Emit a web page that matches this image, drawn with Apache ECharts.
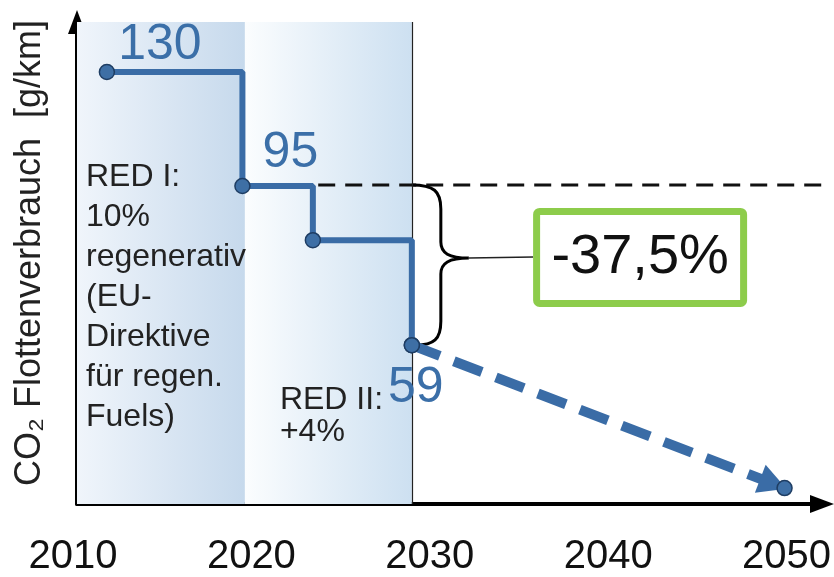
<!DOCTYPE html>
<html>
<head>
<meta charset="utf-8">
<script src="https://cdn.jsdelivr.net/npm/echarts@6/dist/echarts.min.js"></script>
<style>html,body{margin:0;padding:0;background:#fff;}#c{width:834px;height:577px;}</style>
</head>
<body>
<div id="c"></div>
<script>
// ---- data ----
var tickYears = [2010, 2020, 2030, 2040, 2050];
var stepYears = [2011.9, 2019.5, 2023.45, 2029.0];
var stepValues = [130, 95.7, 79.4, 47.8];
var stepLabels = ['130', '95', '', '59'];
var forecastYears = [2029.0, 2049.9];
var forecastValues = [47.8, 4.8];
var refYears = [2023.75, 2052.0];
var refValues = [96, 96];
var bandStarts = [2010.224, 2019.64];
var bandEnds = [2019.64, 2029.0];
var bandTexts = ['RED I:\n10%\nregenerativ\n(EU-\nDirektive\nfür regen.\nFuels)', 'RED II:\n+4%'];
var reductionText = '-37,5%';
var yTitle = 'CO\u2082 Flottenverbrauch  [g/km]';

var FONT = '"Liberation Sans", Arial, "DejaVu Sans", sans-serif';
var BLUE = '#3a6ca6';

var chart = echarts.init(document.getElementById('c'), null, {renderer: 'canvas'});

var labelOffsets = [[53, -27], [48, -33], [0, 0], [4, 43]];
var stepData = stepYears.map(function (x, i) {
  var item = {value: [x, stepValues[i]]};
  if (stepLabels[i]) {
    item.label = {
      show: true, position: 'inside', formatter: stepLabels[i],
      offset: labelOffsets[i], fontSize: 50, color: '#3b6fa8', fontFamily: FONT,
      align: 'center', verticalAlign: 'middle'
    };
  }
  return item;
});

var bandColors = [
  [{offset: 0, color: '#f0f5fb'}, {offset: 1, color: '#c6d9ec'}],
  [{offset: 0, color: '#fbfdfe'}, {offset: 1, color: '#cde0f1'}]
];
var bandLabelPos = [[9, 135], [35, 362]];
var bandLineHeights = [40, 32];
var areas = bandStarts.map(function (s, i) {
  return [{
    xAxis: s, yAxis: 0,
    itemStyle: {color: new echarts.graphic.LinearGradient(0, 0, 1, 0, bandColors[i]), opacity: 1},
    label: {
      show: true, formatter: bandTexts[i], position: bandLabelPos[i],
      align: 'left', verticalAlign: 'top', fontSize: 32, lineHeight: bandLineHeights[i],
      color: '#222', fontFamily: FONT
    }
  }, {xAxis: bandEnds[i], yAxis: 'max'}];
});

// annotation anchors (in data units)
var braceX = 2029.0, braceTop = 96, braceBottom = 47.8, braceTipY = 74;
var boxX0 = 2035.8, boxX1 = 2047.8, boxY0 = 89.1, boxY1 = 59.3;

var option = {
  animation: false,
  backgroundColor: '#fff',
  grid: [
    {left: 77, right: 12, top: 22, bottom: 73},
    {left: 73, right: 47.4, top: 22, bottom: 73}
  ],
  xAxis: [
    {
      type: 'value', gridIndex: 0, min: 2010.224, max: 2052.0,
      axisLine: {show: true, lineStyle: {color: '#000', width: 4}, symbol: ['none', 'triangle'], symbolSize: [18, 24]},
      axisTick: {show: false}, axisLabel: {show: false}, splitLine: {show: false}
    },
    {
      type: 'value', gridIndex: 1, min: 2010, max: 2050, interval: 10,
      axisLine: {show: false}, axisTick: {show: false}, splitLine: {show: false},
      axisLabel: {
        show: true, margin: 36, fontSize: 40, color: '#111', fontFamily: FONT,
        formatter: function (v) { return tickYears.indexOf(v) >= 0 ? String(v) : ''; }
      }
    }
  ],
  yAxis: [
    {
      type: 'value', gridIndex: 0, min: 0, max: 145.05,
      axisLine: {show: true, lineStyle: {color: '#000', width: 4}, symbol: ['none', 'triangle'], symbolSize: [18, 24]},
      axisTick: {show: false}, axisLabel: {show: false}, splitLine: {show: false},
      name: yTitle, nameLocation: 'middle', nameRotate: 90, nameGap: 29,
      nameTextStyle: {fontSize: 36, color: '#222', fontFamily: FONT, padding: [0, 0, 0, 20]}
    },
    {
      type: 'value', gridIndex: 1, min: 0, max: 145.05, show: false
    }
  ],
  series: [
    {
      name: 'bands', type: 'line', xAxisIndex: 0, yAxisIndex: 0, data: [], z: 1,
      markArea: {silent: true, data: areas},
      markLine: {
        silent: true, symbol: ['none', 'none'],
        lineStyle: {color: '#222', width: 1.2, type: 'solid'},
        label: {show: false},
        data: [{xAxis: bandEnds[1]}]
      }
    },
    {
      name: 'ref', type: 'line', xAxisIndex: 0, yAxisIndex: 0, z: 3,
      data: refYears.map(function (x, i) { return [x, refValues[i]]; }),
      symbol: 'none',
      lineStyle: {color: '#111', width: 3, type: [17, 10]}
    },
    {
      name: 'annot', type: 'custom', xAxisIndex: 0, yAxisIndex: 0, z: 4,
      data: [[0]],
      renderItem: function (params, api) {
        var T = api.coord([braceX, braceTop]);
        var B = api.coord([braceX, braceBottom]);
        var P = api.coord([braceX, braceTipY]);
        var x0 = T[0], yT = T[1], yB = B[1], yP = P[1];
        var bx = x0 + 29, xp = x0 + 57;
        var d = 'M' + x0 + ',' + yT +
          ' C' + (x0 + 22) + ',' + yT + ' ' + bx + ',' + (yT + 6) + ' ' + bx + ',' + (yT + 24) +
          ' L' + bx + ',' + (yP - 16) +
          ' C' + bx + ',' + (yP - 5) + ' ' + (bx + 8) + ',' + yP + ' ' + xp + ',' + yP +
          ' C' + (bx + 8) + ',' + yP + ' ' + bx + ',' + (yP + 5) + ' ' + bx + ',' + (yP + 16) +
          ' L' + bx + ',' + (yB - 24) +
          ' C' + bx + ',' + (yB - 6) + ' ' + (x0 + 22) + ',' + yB + ' ' + (x0 + 4) + ',' + yB;
        var b0 = api.coord([boxX0, boxY0]);
        var b1 = api.coord([boxX1, boxY1]);
        return {
          type: 'group',
          children: [
            {type: 'path', shape: {pathData: d}, style: {fill: 'none', stroke: '#000', lineWidth: 3}},
            {type: 'line', shape: {x1: xp, y1: yP, x2: b0[0], y2: yP - 1}, style: {stroke: '#222', lineWidth: 1.5}},
            {type: 'rect', shape: {x: b0[0] + 3.5, y: b0[1] + 3.5, width: b1[0] - b0[0] - 7, height: b1[1] - b0[1] - 7, r: 3},
              style: {fill: '#fff', stroke: '#8dcc4b', lineWidth: 7}},
            {type: 'text', x: (b0[0] + b1[0]) / 2, y: (b0[1] + b1[1]) / 2,
              style: {text: reductionText, fontSize: 56, fontFamily: FONT, fill: '#111', align: 'center', verticalAlign: 'middle'}}
          ]
        };
      }
    },
    {
      name: 'forecast', type: 'line', xAxisIndex: 0, yAxisIndex: 0, z: 5,
      data: forecastYears.map(function (x, i) { return [x, forecastValues[i]]; }),
      symbol: 'circle', symbolSize: 15,
      itemStyle: {color: '#3e6fa5', borderColor: '#1e3d63', borderWidth: 1.5},
      lineStyle: {width: 0, opacity: 0},
      markLine: {
        silent: true, symbol: ['none', 'triangle'], symbolSize: [30, 28],
        symbolOffset: [[0, 0], [0, 12]],
        lineStyle: {color: BLUE, width: 10, type: [30, 15]},
        label: {show: false},
        data: [[
          {coord: [forecastYears[0], forecastValues[0]]},
          {coord: [forecastYears[1], forecastValues[1]]}
        ]]
      }
    },
    {
      name: 'steps', type: 'line', xAxisIndex: 0, yAxisIndex: 0, z: 6,
      step: 'end', data: stepData,
      symbol: 'circle', symbolSize: 15,
      itemStyle: {color: '#3e6fa5', borderColor: '#1e3d63', borderWidth: 1.5},
      lineStyle: {color: BLUE, width: 6}
    }
  ]
};
chart.setOption(option);
</script>
</body>
</html>
